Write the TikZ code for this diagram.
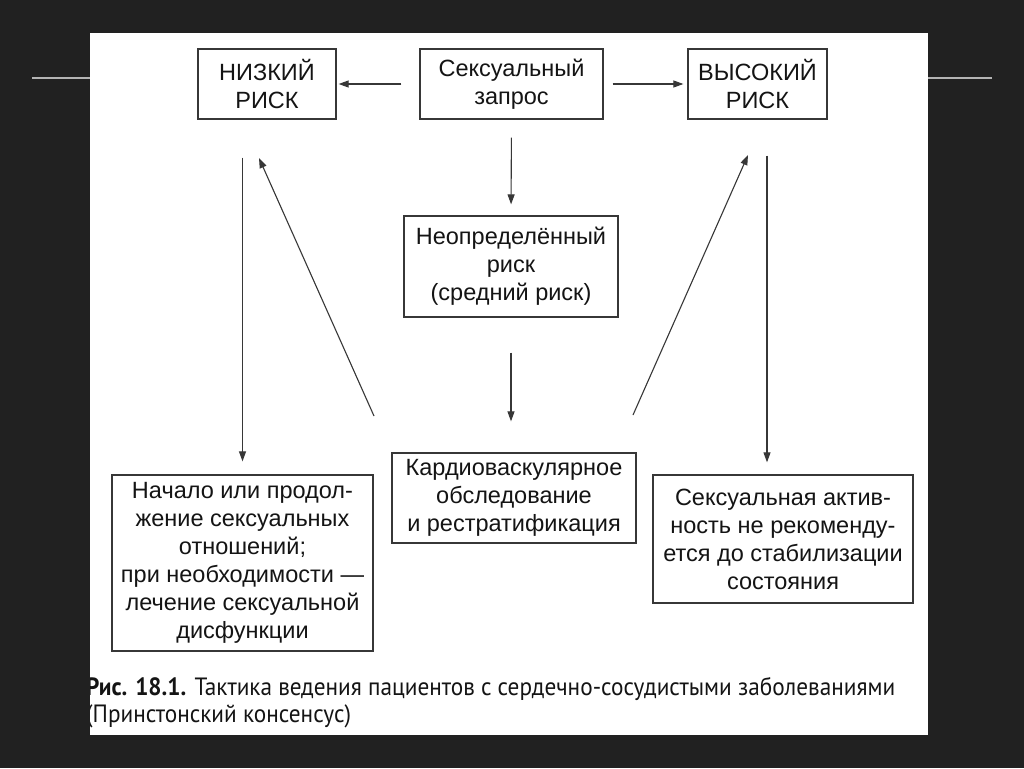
\documentclass[tikz,border=0pt]{standalone}
\usepackage{fontspec}
\setmainfont{Liberation Sans}
\newfontfamily\capfont[FakeStretch=0.93]{PT Sans}
\usetikzlibrary{arrows, arrows.meta, calc}
\definecolor{slidebg}{HTML}{212121}
\definecolor{rulegray}{HTML}{B4B4B4}
\definecolor{ink}{HTML}{141414}
\tikzset{
  riskbox/.style={draw=ink!85, line width=1.3pt, fill=white, align=center, inner sep=0pt,
    font=\fontsize{23.5}{28}\selectfont, text=ink},
  flow/.style={-{Triangle[length=10pt,width=7pt]}, line width=1.1pt, draw=ink!85},
  captext/.style={anchor=base west, inner sep=0pt, text=ink, font=\capfont\fontsize{25}{27}\selectfont},
}

\begin{document}
\begin{tikzpicture}[x=1pt, y=-1pt]
  \fill[slidebg] (0,0) rectangle (1024,768);
  \useasboundingbox (0,0) rectangle (1024,768);
  \draw[rulegray, line width=2pt] (32,78) -- (90,78);
  \draw[rulegray, line width=2pt] (928,78) -- (992,78);
  \fill[white] (90,33) rectangle (928,735);

  % top row
  \node[riskbox, minimum width=138, minimum height=70] (low) at (267,84) {НИЗКИЙ\\РИСК};
  \node[riskbox, minimum width=183, minimum height=70] (zapros) at (511.5,84) {Сексуальный\\запрос};
  \node[riskbox, minimum width=139, minimum height=70] (high) at (757.5,84) {ВЫСОКИЙ\\РИСК};

  % middle
  \node[riskbox, minimum width=214, minimum height=101] (neopr) at (511,266.5) {Неопределённый\\риск\\(средний риск)};
  \node[riskbox, minimum width=244, minimum height=90] (kardio) at (514,498) {Кардиоваскулярное\\обследование\\и рестратификация};

  % bottom row
  \node[riskbox, minimum width=261, minimum height=176] (nachalo) at (242.5,563)
    {Начало или продол-\\жение сексуальных\\отношений;\\при необходимости ---\\лечение сексуальной\\дисфункции};
  \node[riskbox, minimum width=260, minimum height=128] (active) at (783,539)
    {Сексуальная актив-\\ность не рекоменду-\\ется до стабилизации\\состояния};

  % arrows
  \draw[flow, shorten <=18pt, shorten >=2pt] (zapros.west) -- (low.east);
  \draw[flow, shorten <=9pt, shorten >=4pt] (zapros.east) -- (high.west);
  \draw[flow, shorten <=18pt, shorten >=11pt] (zapros.south) -- (neopr.north);
  \draw[flow, shorten <=35pt, shorten >=31pt] (neopr.south) -- (neopr.south |- kardio.north);
  \draw[flow, shorten <=38pt, shorten >=13pt] (nachalo.north |- low.south) -- (nachalo.north);
  \draw[flow, shorten <=36pt, shorten >=12pt] ([xshift=9.5pt]high.south) -- ([xshift=9.5pt]high.south |- active.north);

  \coordinate (kl) at (374,416);
  \coordinate (lowtip) at (259,158);
  \coordinate (kr) at (633,415);
  \coordinate (hightip) at (748,155);
  \draw[flow] (kl) -- (lowtip);
  \draw[flow] (kr) -- (hightip);

  % caption
  \begin{scope}
    \clip (90,33) rectangle (928,735);
    \node[captext] (cap1) at (86,695) {\textbf{Рис. 18.1.} Тактика ведения пациентов с сердечно-сосудистыми заболеваниями};
    \node[captext] (cap2) at (86,722) {(Принстонский консенсус)};
  \end{scope}
\end{tikzpicture}
\end{document}
